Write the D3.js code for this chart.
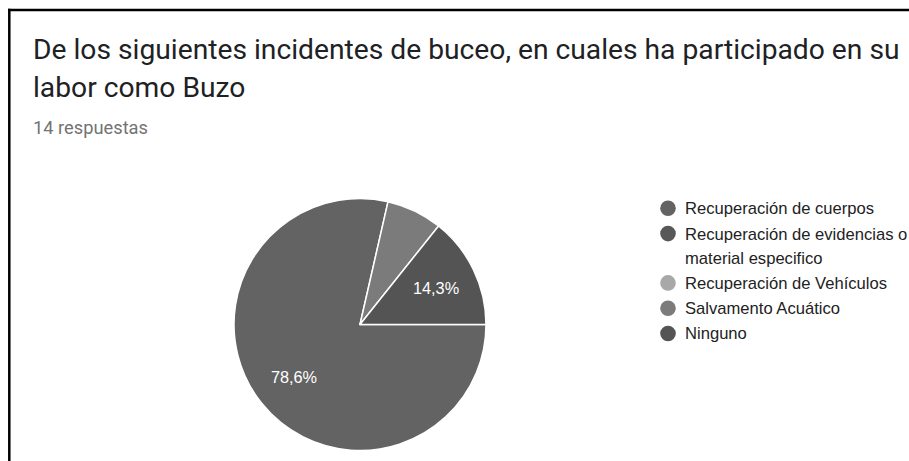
<!DOCTYPE html>
<html>
<head>
<meta charset="utf-8">
<script src="https://cdn.jsdelivr.net/npm/d3@7"></script>
<style>
  html, body { margin: 0; padding: 0; background: #fff; }
  svg { display: block; }
</style>
</head>
<body>
<svg id="chart" width="909" height="461"></svg>
<script>
// Survey question and response count
const titleLines = [
  "De los siguientes incidentes de buceo, en cuales ha participado en su",
  "labor como Buzo"
];
const responsesLabel = "14 respuestas";

// Answer options and how many respondents chose each
const categories = [
  "Recuperación de cuerpos",
  "Recuperación de evidencias o material especifico",
  "Recuperación de Vehículos",
  "Salvamento Acuático",
  "Ninguno"
];
const counts = [11, 0, 0, 1, 2];

// Slice palette (grayscale)
const sliceColors = ["#636363", "#585858", "#a8a8a8", "#7b7b7b", "#545454"];

const W = 909, H = 461;
const svg = d3.select("#chart");

// frame along the top and left edges
svg.append("line").attr("x1", 8).attr("x2", W).attr("y1", 10).attr("y2", 10)
  .attr("stroke", "#000").attr("stroke-width", 2.5);
svg.append("line").attr("x1", 9.3).attr("x2", 9.3).attr("y1", 8.8).attr("y2", H)
  .attr("stroke", "#000").attr("stroke-width", 2.5);

// fit a text element's font size to a target width
function fitWidth(sel, target) {
  const fs = parseFloat(sel.attr("font-size"));
  const len = sel.node().getComputedTextLength();
  if (len > 0) sel.attr("font-size", (fs * target / len).toFixed(2));
}

// Title
const t1 = svg.append("text").attr("x", 33).attr("y", 59)
  .attr("font-family", "Roboto, sans-serif").attr("font-size", 22.5)
  .attr("fill", "#202124").text(titleLines[0]);
fitWidth(t1, 867);
const titleSize = t1.attr("font-size");
svg.append("text").attr("x", 33).attr("y", 97)
  .attr("font-family", "Roboto, sans-serif").attr("font-size", titleSize)
  .attr("fill", "#202124").text(titleLines[1]);

const sub = svg.append("text").attr("x", 33).attr("y", 134)
  .attr("font-family", "Roboto, sans-serif").attr("font-size", 14)
  .attr("fill", "#737373").text(responsesLabel);
fitWidth(sub, 115);

// Pie
const cx = 360, cy = 324.5, R = 126;
const total = d3.sum(counts);
const color = d3.scaleOrdinal().domain(categories).range(sliceColors);

const pie = d3.pie().sort(null).value(d => d.count)
  .startAngle(Math.PI / 2).endAngle(Math.PI / 2 + 2 * Math.PI);
const data = categories.map((c, i) => ({ name: c, count: counts[i] }));
const arcs = pie(data);
const arc = d3.arc().innerRadius(0).outerRadius(R);
const labelArc = d3.arc().innerRadius(R * 0.67).outerRadius(R * 0.67);

const g = svg.append("g").attr("transform", `translate(${cx},${cy})`);
g.selectAll("path.slice")
  .data(arcs.filter(a => a.data.count > 0))
  .join("path")
  .attr("class", "slice")
  .attr("d", arc)
  .attr("fill", d => color(d.data.name))
  .attr("stroke", "#fff")
  .attr("stroke-width", 1.5)
  .attr("stroke-linejoin", "round");

const pct = v => (v * 100).toFixed(1).replace(".", ",") + "%";
g.selectAll("text.pct")
  .data(arcs.filter(a => a.data.count / total > 0.1))
  .join("text")
  .attr("class", "pct")
  .attr("transform", d => `translate(${labelArc.centroid(d)})`)
  .attr("text-anchor", "middle")
  .attr("dy", "0.36em")
  .attr("font-family", "'Liberation Sans', Arial, sans-serif")
  .attr("font-size", 16.3)
  .attr("fill", "#fff")
  .text(d => pct(d.data.count / total));

// Legend
const legX = 668, textX = 685, maxW = 228;
const legFont = 16.6, lineH = 24, rowGap = 25.3;
let y = 208.3;
categories.forEach((name, i) => {
  svg.append("circle").attr("cx", legX).attr("cy", y).attr("r", 7.8)
    .attr("fill", color(name));
  const txt = svg.append("text").attr("x", textX)
    .attr("font-family", "'Liberation Sans', Arial, sans-serif")
    .attr("font-size", legFont).attr("fill", "#222");
  // word-wrap within the legend column
  const words = name.split(" ");
  let line = [], lines = [];
  const probe = txt.append("tspan");
  words.forEach(w => {
    const test = line.concat(w).join(" ");
    probe.text(test);
    if (probe.node().getComputedTextLength() > maxW && line.length) {
      lines.push(line.join(" "));
      line = [w];
    } else {
      line.push(w);
    }
  });
  lines.push(line.join(" "));
  probe.remove();
  lines.forEach((l, k) => {
    txt.append("tspan").attr("x", textX).attr("y", y + k * lineH)
      .attr("dy", "0.36em").text(l);
  });
  y += (lines.length - 1) * lineH + rowGap;
});
</script>
</body>
</html>
